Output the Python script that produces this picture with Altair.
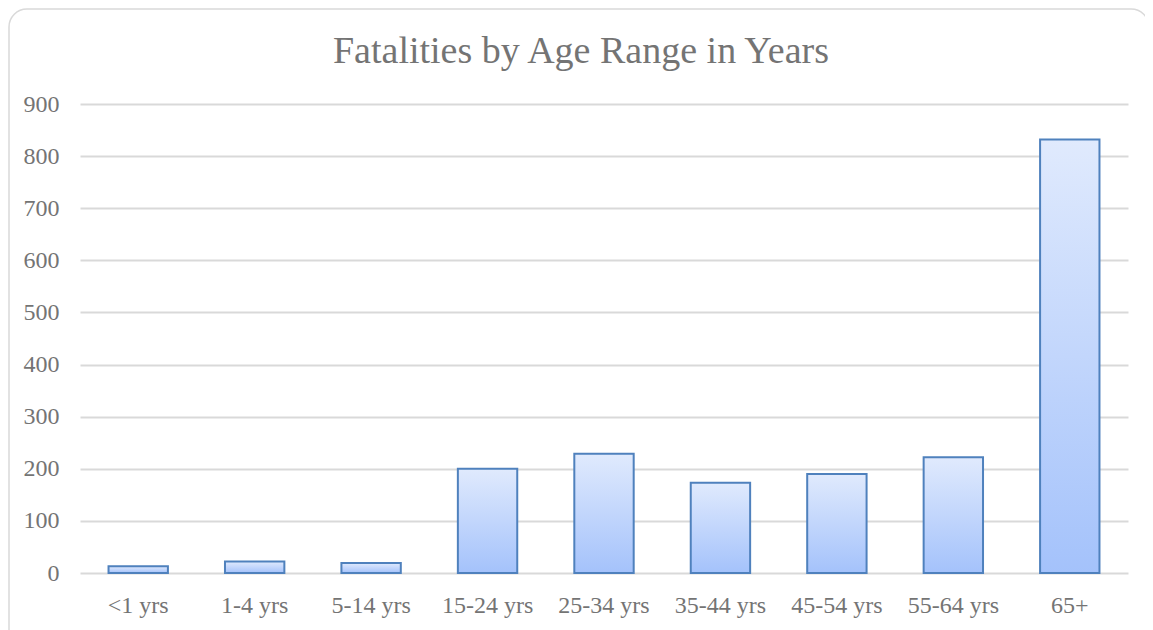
import altair as alt
import pandas as pd

categories = ["<1 yrs", "1-4 yrs", "5-14 yrs", "15-24 yrs", "25-34 yrs",
              "35-44 yrs", "45-54 yrs", "55-64 yrs", "65+"]
fatalities = [13, 22, 19, 200, 229, 173, 190, 222, 832]
y_ticks = [0, 100, 200, 300, 400, 500, 600, 700, 800, 900]

df = pd.DataFrame({"age": categories, "fatalities": fatalities})

FONT = "Liberation Serif"
TEXT = "#747474"

gradient = alt.LinearGradient(
    gradient="linear",
    stops=[alt.GradientStop(color="#e0eafd", offset=0),
           alt.GradientStop(color="#a4c2fb", offset=1)],
    x1=0, x2=0, y1=0, y2=1,
)

bars = alt.Chart(df).mark_bar(
    fill=gradient, stroke="#4f81bd", strokeWidth=2
).encode(
    x=alt.X("age:N", sort=categories,
            scale=alt.Scale(paddingInner=0.49, paddingOuter=0.245),
            axis=alt.Axis(title=None, labelAngle=0, ticks=False, domain=False,
                          grid=False, labelFont=FONT, labelFontSize=24,
                          labelColor=TEXT, labelPadding=20)),
    y=alt.Y("fatalities:Q", scale=alt.Scale(domain=[0, 900], nice=False),
            axis=alt.Axis(title=None, values=y_ticks, ticks=False, domain=False,
                          gridColor="#d9d9d9", gridWidth=2, labelFont=FONT,
                          labelFontSize=24, labelColor=TEXT, labelPadding=21)),
)

border = alt.Chart(pd.DataFrame({"a": [0]})).mark_rect(
    fillOpacity=0, stroke="#d9d9d9", strokeWidth=1.5, cornerRadius=18
).encode(
    x=alt.value(-71), x2=alt.value(1069), y=alt.value(-95), y2=alt.value(545)
)

chart = alt.layer(border, bars).properties(
    width=1048, height=469,
    background="white",
    title=alt.TitleParams("Fatalities by Age Range in Years", font=FONT,
                          fontSize=38, fontWeight="normal", color=TEXT,
                          offset=-63, dx=-23),
    autosize=alt.AutoSizeParams(type="none"),
    padding={"left": 72, "top": 96, "right": 17, "bottom": 57},
).configure_view(strokeWidth=0, stroke="transparent")

chart.save("out.html", embed_options={"renderer": "svg", "actions": False})
